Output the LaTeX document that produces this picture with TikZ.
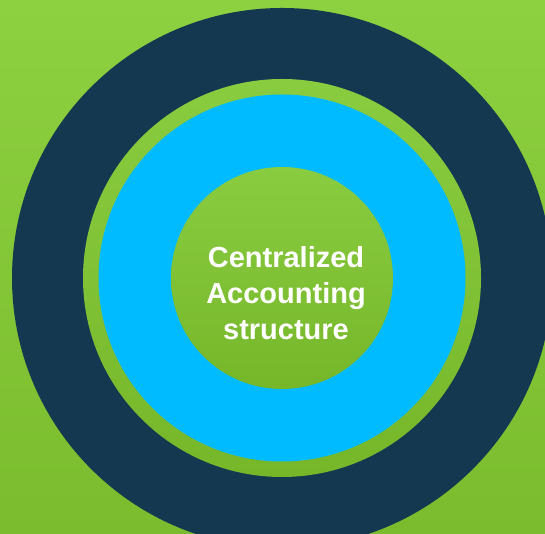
\documentclass[tikz,border=0pt]{standalone}
\usepackage{fontspec}
\setmainfont{Liberation Sans}
\definecolor{bgtop}{HTML}{8DD040}
\definecolor{bgbot}{HTML}{7ABC2D}
\definecolor{navy}{HTML}{133850}
\definecolor{skyc}{HTML}{00BBFF}
\definecolor{gtop}{HTML}{8ACC40}
\definecolor{gbot}{HTML}{76B72A}
\tikzset{
  ring/.style={circle, inner sep=0pt, minimum size=#1},
}
\begin{document}
\begin{tikzpicture}[x=1pt,y=1pt]
\useasboundingbox (0,0) rectangle (545,534);
\shade[top color=bgtop, bottom color=bgbot] (0,0) rectangle (545,534);
\node[ring=540pt, fill=navy] (outer) at (282,256) {};
\node[ring=398pt, top color=gtop, bottom color=gbot] (gring) at (282,256) {};
\node[ring=367pt, fill=skyc] (cyan) at (282,256) {};
\node[ring=222pt, top color=gtop, bottom color=gbot] (core) at (282,256) {};
\node[text=white, font=\bfseries\fontsize{29}{35.7}\selectfont, align=center] (label) at (286,241) {Centralized\\Accounting\\structure};
\end{tikzpicture}
\end{document}
